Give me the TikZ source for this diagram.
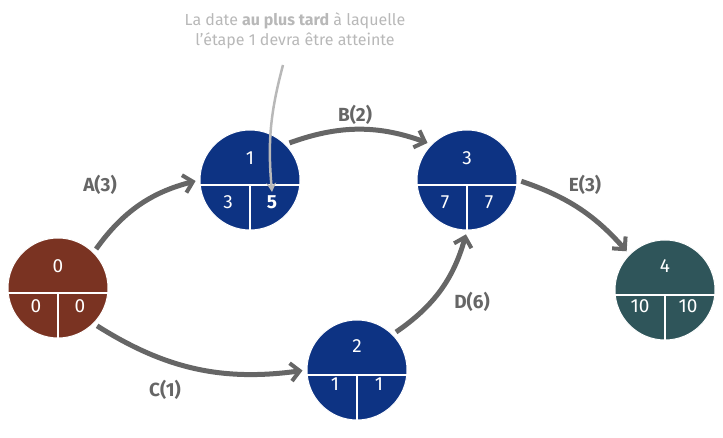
\documentclass[tikz,border=0pt]{standalone}
\usepackage{fontspec}
\setmainfont{Fira Sans}
\usetikzlibrary{arrows.meta}
\definecolor{etapebrun}{HTML}{7A3322}
\definecolor{etapebleu}{HTML}{0D3383}
\definecolor{etapevert}{HTML}{2F555A}
\definecolor{gristache}{HTML}{666666}
\definecolor{grisnote}{HTML}{B8B8B8}
\begin{document}
\begin{tikzpicture}[
    x=1pt, y=-1pt,
    etape/.style={circle, minimum size=100pt, inner sep=0, draw=white, line width=1pt},
    sep/.style={white, line width=1.5pt},
    num/.style={text=white, font=\fontsize{19}{22}\selectfont},
    tache/.style={gristache, line width=5pt, shorten <=4pt, shorten >=4pt,
        -{Straight Barb[length=9pt, width=18pt, line width=4pt]}},
    lbl/.style={text=gristache, font=\fontsize{19}{22}\selectfont\bfseries},
    ]
    \useasboundingbox (0,0) rectangle (723,438);

    \node (n0) [etape, fill=etapebrun] at (58,288) {};
    \draw [sep] ([yshift=-5]n0.west) -- ([yshift=-5]n0.east);
    \draw [sep] ([yshift=-5]n0.center) -- (n0.south);
    \node [num] at (58,266) {0};
    \node [num] at (36,306) {0};
    \node [num] at (80,306) {0};

    \node (n1) [etape, fill=etapebleu] at (250,180) {};
    \draw [sep] ([yshift=-5]n1.west) -- ([yshift=-5]n1.east);
    \draw [sep] ([yshift=-5]n1.center) -- (n1.south);
    \node [num] at (250,158) {1};
    \node [num] at (228,202) {3};
    \node [num, font=\fontsize{19}{22}\selectfont\bfseries] (late) at (272,202) {5};

    \node (n2) [etape, fill=etapebleu] at (357,370) {};
    \draw [sep] ([yshift=-5]n2.west) -- ([yshift=-5]n2.east);
    \draw [sep] ([yshift=-5]n2.center) -- (n2.south);
    \node [num] at (357,346) {2};
    \node [num] at (335,384) {1};
    \node [num] at (379,384) {1};

    \node (n3) [etape, fill=etapebleu] at (467,180) {};
    \draw [sep] ([yshift=-5]n3.west) -- ([yshift=-5]n3.east);
    \draw [sep] ([yshift=-5]n3.center) -- (n3.south);
    \node [num] at (467,158) {3};
    \node [num] at (445,202) {7};
    \node [num] at (489,202) {7};

    \node (n4) [etape, fill=etapevert] at (665,290) {};
    \draw [sep] ([yshift=-5]n4.west) -- ([yshift=-5]n4.east);
    \draw [sep] ([yshift=-5]n4.center) -- (n4.south);
    \node [num] at (665,266) {4};
    \node [num] at (640,306) {10};
    \node [num] at (688,306) {10};

    \draw [tache] (n0.north east) to [bend left=20] (n1.west);
    \draw [tache] (n1.north east) to [bend left=20] (n3.north west);
    \draw [tache] (n0.south east) to [bend right=20] (n2.west);
    \draw [tache] (n2.north east) to [bend right=20] (n3.south);
    \draw [tache] (n3.east) to [bend left=15] (n4.north west);

    \node [lbl] at (100,185) {A(3)};
    \node [lbl] at (355,115) {B(2)};
    \node [lbl] at (165,390) {C(1)};
    \node [lbl] at (472,302) {D(6)};
    \node [lbl] at (585,185) {E(3)};

    \node (info) [text=grisnote, align=center, font=\fontsize{16}{20}\selectfont] at (295,31)
        {La date \textbf{au plus tard} à laquelle\\l’étape 1 devra être atteinte};
    \draw [grisnote, line width=2.5pt, -{Stealth[length=9pt, width=10pt]}]
        (283,65) to [bend right=10] (late.north);
\end{tikzpicture}
\end{document}
